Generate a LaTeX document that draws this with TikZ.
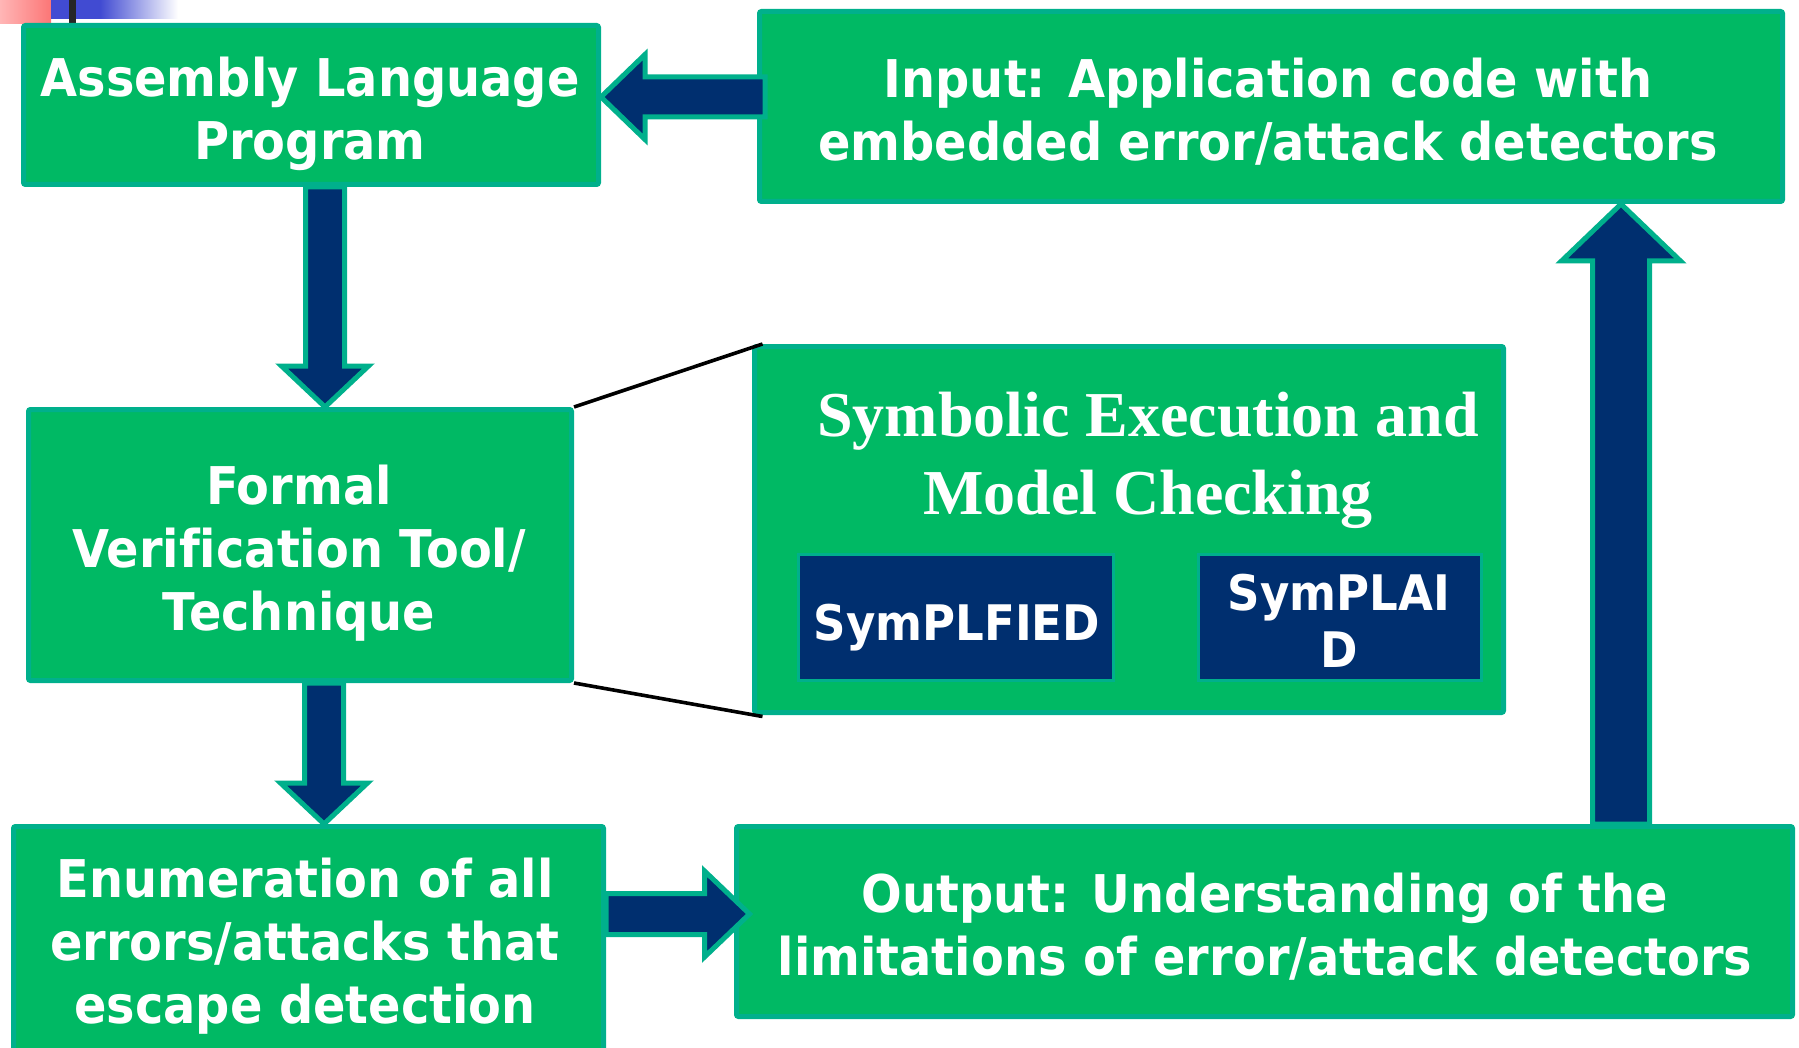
\documentclass[tikz,border=0pt]{standalone}
\usepackage{fontspec}
\usetikzlibrary{calc,fit}
\newfontfamily\boxfont[FakeStretch=0.92,Ligatures=NoCommon]{DejaVu Sans}
\newfontfamily\titlefont{Liberation Serif}
\definecolor{boxgreen}{RGB}{0,185,100}
\definecolor{boxedge}{RGB}{0,176,140}
\definecolor{arrownavy}{RGB}{0,47,111}
\definecolor{barblue}{RGB}{65,75,210}
\definecolor{barredlight}{RGB}{255,182,182}
\definecolor{barred}{RGB}{252,118,118}

% block arrows: #1 start, #2 tip, #3 half shaft width, #4 half head width, #5 head length
\newcommand\arrowdown[5]{\draw[blockarrow] let \p1=(#1),\p2=(#2) in
  (\x1-#3,\y1) -- (\x1+#3,\y1) -- (\x1+#3,\y2+#5) -- (\x1+#4,\y2+#5) -- (\x1,\y2)
  -- (\x1-#4,\y2+#5) -- (\x1-#3,\y2+#5) -- cycle;}
\newcommand\arrowup[5]{\draw[blockarrow] let \p1=(#1),\p2=(#2) in
  (\x1-#3,\y1) -- (\x1+#3,\y1) -- (\x1+#3,\y2-#5) -- (\x1+#4,\y2-#5) -- (\x1,\y2)
  -- (\x1-#4,\y2-#5) -- (\x1-#3,\y2-#5) -- cycle;}
\newcommand\arrowleft[5]{\draw[blockarrow] let \p1=(#1),\p2=(#2) in
  (\x1,\y1+#3) -- (\x1,\y1-#3) -- (\x2+#5,\y1-#3) -- (\x2+#5,\y1-#4) -- (\x2,\y1)
  -- (\x2+#5,\y1+#4) -- (\x2+#5,\y1+#3) -- cycle;}
\newcommand\arrowright[5]{\draw[blockarrow] let \p1=(#1),\p2=(#2) in
  (\x1,\y1+#3) -- (\x1,\y1-#3) -- (\x2-#5,\y1-#3) -- (\x2-#5,\y1-#4) -- (\x2,\y1)
  -- (\x2-#5,\y1+#4) -- (\x2-#5,\y1+#3) -- cycle;}

\tikzset{
  greenbox/.style={draw=boxedge, fill=boxgreen, line width=2.5pt, rounded corners=1pt, inner sep=0pt},
  navybox/.style={draw=boxedge, fill=arrownavy, line width=1.5pt, inner sep=0pt},
  boxtext/.style={text=white, align=center, inner sep=0pt,
    font=\boxfont\bfseries\fontsize{26}{31.5}\selectfont,
    execute at begin node=\strut, execute at end node=\strut},
  tooltext/.style={text=white, align=center, inner sep=0pt,
    font=\boxfont\bfseries\fontsize{24.5}{28.5}\selectfont,
    execute at begin node=\strut, execute at end node=\strut},
  titletext/.style={text=white, align=center, inner sep=0pt,
    font=\titlefont\bfseries\fontsize{32}{39}\selectfont,
    execute at begin node=\strut, execute at end node=\strut},
  blockarrow/.style={draw=boxedge, fill=arrownavy, line width=2.5pt, line join=miter},
  zoomline/.style={draw=black, line width=1.8pt}
}

\begin{document}
\begin{tikzpicture}[x=0.5pt, y=-0.5pt]
\useasboundingbox (0,0) rectangle (1799,1048);

% slide corner ornament
\shade[left color=barredlight, right color=barred] (0,0) rectangle (51,24);
\fill[barblue] (51,0) rectangle (100,19);
\shade[left color=barblue, right color=white] (100,0) rectangle (178,19);
\fill[black!85] (69,0) rectangle (76,23);

% boxes
\node[greenbox, fit={(23.5,25.5) (598.5,184.5)}] (asm) {};
\node[greenbox, fit={(759.5,11.5) (1782.5,201.5)}] (inp) {};
\node[greenbox, fit={(28.5,409.5) (571.5,680.5)}] (fvt) {};
\node[greenbox, fit={(754.5,346.5) (1503.5,712.5)}] (sym) {};
\node[greenbox, fit={(13.5,826.5) (603.5,1056)}] (enum) {};
\node[greenbox, fit={(736.5,826.5) (1792.5,1016.5)}] (out) {};
\node[navybox, fit={(798.5,554.5) (1113.5,680.5)}] (plf) {};
\node[navybox, fit={(1198.5,554.5) (1481.5,680.5)}] (plaid) {};

% texts
\node[boxtext] (asmtxt) at (310,117.4) {Assembly Language\\Program};
\node[boxtext] (inptxt) at (1268,118.4) {Input: Application code with\\embedded error/attack detectors};
\node[boxtext] (fvttxt) at (299,556.9) {Formal\\Verification Tool/\\Technique};
\node[boxtext] (enumtxt) at (305,949.9) {Enumeration of all\\errors/attacks that\\escape detection};
\node[boxtext] (outtxt) at (1265,933.4) {Output: Understanding of the\\limitations of error/attack detectors};
\node[titletext] (symtxt) at (1148,465.4) {Symbolic Execution and\\Model Checking};
\node[tooltext] (plftxt) at (957,629) {SymPLFIED};
\node[tooltext] (plaidtxt) at (1339,629.5) {SymPLAI\\D};

% connectors
\coordinate (d1a) at ([xshift=7pt]asm.south);
\coordinate (d1b) at (d1a |- fvt.north);
\arrowdown{d1a}{d1b}{9.75pt}{21.75pt}{20.5pt}

\coordinate (d2a) at ([xshift=12pt]fvt.south);
\coordinate (d2b) at (d2a |- enum.north);
\arrowdown{d2a}{d2b}{9.75pt}{21.75pt}{20.5pt}

\coordinate (l0) at ([yshift=4.75pt]inp.west);
\coordinate (la) at ([xshift=4pt]l0);
\coordinate (lb) at (asm.east |- la);
\arrowleft{la}{lb}{10pt}{21.25pt}{22pt}

\coordinate (r0) at ([yshift=3.75pt]out.west);
\coordinate (ra) at (enum.east |- r0);
\coordinate (rb) at ([xshift=7.75pt]r0);
\arrowright{ra}{rb}{10.25pt}{21.5pt}{22.5pt}

\coordinate (ua) at ([xshift=178.25pt]out.north);
\coordinate (ub) at (ua |- inp.south);
\arrowup{ua}{ub}{14.25pt}{29.75pt}{28.5pt}

% zoom lines
\draw[zoomline] (fvt.north east) -- ([xshift=5.25pt]sym.north west);
\draw[zoomline] (fvt.south east) -- ([xshift=5.25pt,yshift=-0.75pt]sym.south west);
\end{tikzpicture}
\end{document}
